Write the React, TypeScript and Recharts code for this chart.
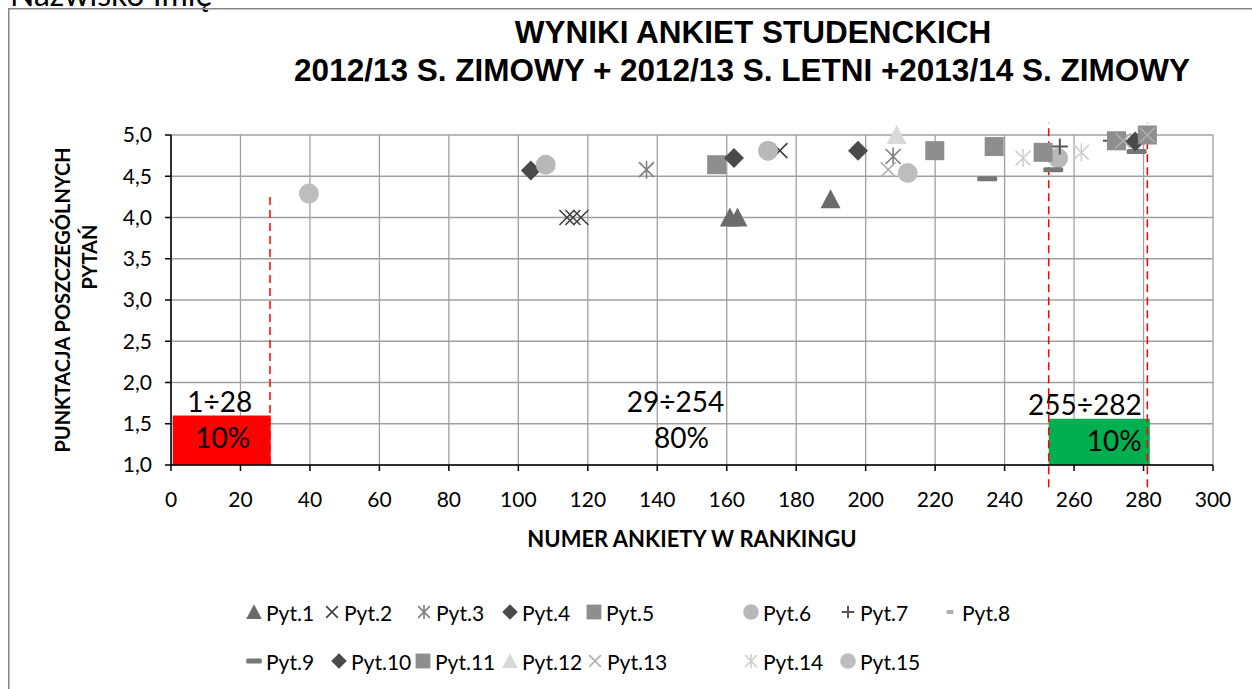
import React from 'react';
import {
  ScatterChart,
  Scatter,
  XAxis,
  YAxis,
  CartesianGrid,
  ReferenceArea,
  ReferenceLine,
} from 'recharts';

// survey rank (x) vs question score (y)
const PYT1 = [{ x: 160.9, y: 4.0 }, { x: 163.1, y: 4.0 }, { x: 189.9, y: 4.22 }];
const PYT2 = [{ x: 114.0, y: 4.0 }, { x: 115.7, y: 4.0 }, { x: 118.0, y: 4.0 }, { x: 175.3, y: 4.81 }];
const PYT3 = [{ x: 136.9, y: 4.58 }, { x: 207.9, y: 4.74 }];
const PYT4 = [{ x: 103.6, y: 4.57 }, { x: 197.8, y: 4.81 }];
const PYT5 = [{ x: 157.1, y: 4.64 }, { x: 237.0, y: 4.86 }];
const PYT6 = [{ x: 107.9, y: 4.64 }, { x: 171.9, y: 4.81 }, { x: 255.4, y: 4.72 }];
const PYT7 = [{ x: 255.9, y: 4.86 }, { x: 270.6, y: 4.93 }];
const PYT8: { x: number; y: number }[] = [];
const PYT9 = [{ x: 235.0, y: 4.47 }, { x: 254.0, y: 4.58 }, { x: 278.0, y: 4.8 }];
const PYT10 = [{ x: 162.1, y: 4.72 }, { x: 277.6, y: 4.92 }];
const PYT11 = [{ x: 219.9, y: 4.81 }, { x: 251.1, y: 4.79 }, { x: 272.2, y: 4.93 }, { x: 281.1, y: 5.0 }];
const PYT12 = [{ x: 208.9, y: 5.0 }];
const PYT13 = [{ x: 206.5, y: 4.58 }, { x: 274.1, y: 4.93 }, { x: 281.1, y: 5.0 }];
const PYT14 = [{ x: 245.3, y: 4.72 }, { x: 262.1, y: 4.79 }];
const PYT15 = [{ x: 39.7, y: 4.29 }, { x: 212.1, y: 4.54 }];

const SERIES_NAMES = [
  'Pyt.1', 'Pyt.2', 'Pyt.3', 'Pyt.4', 'Pyt.5', 'Pyt.6', 'Pyt.7', 'Pyt.8',
  'Pyt.9', 'Pyt.10', 'Pyt.11', 'Pyt.12', 'Pyt.13', 'Pyt.14', 'Pyt.15',
];
const SERIES_DATA = [
  PYT1, PYT2, PYT3, PYT4, PYT5, PYT6, PYT7, PYT8,
  PYT9, PYT10, PYT11, PYT12, PYT13, PYT14, PYT15,
];

const X_TICKS = [0, 20, 40, 60, 80, 100, 120, 140, 160, 180, 200, 220, 240, 260, 280, 300];
const Y_TICKS = [1, 1.5, 2, 2.5, 3, 3.5, 4, 4.5, 5];

// ranking groups
const GROUP_LABELS = ['1÷28', '29÷254', '255÷282'];
const GROUP_SHARES = ['10%', '80%', '10%'];
const LOW_GROUP = [0.5, 28.7];
const MID_GROUP = [29, 254];
const TOP_GROUP = [252.7, 281.8];
const GROUP_TOP = 1.6;
const CUT_LINES = [
  { x: 28.5, from: 1.0, to: 4.25 },
  { x: 252.7, from: 0.73, to: 5.15 },
  { x: 281.1, from: 0.73, to: 5.15 },
];

const MARKERS = [
  { kind: 'triangle', color: '#6b6b6b' },
  { kind: 'x', color: '#404040' },
  { kind: 'star', color: '#7f7f7f' },
  { kind: 'diamond', color: '#4a4a4a' },
  { kind: 'square', color: '#8e8e8e' },
  { kind: 'circle', color: '#b8b8b8' },
  { kind: 'plus', color: '#555555' },
  { kind: 'shortdash', color: '#b0b0b0' },
  { kind: 'dash', color: '#777777' },
  { kind: 'diamond', color: '#4a4a4a' },
  { kind: 'square', color: '#8e8e8e' },
  { kind: 'triangle', color: '#d9d9d9' },
  { kind: 'x', color: '#b0b0b0' },
  { kind: 'star', color: '#cfcfcf' },
  { kind: 'circle', color: '#bdbdbd' },
];

const FONT = 'Lato, "Noto Sans", sans-serif';

function Marker({ kind, color, cx, cy, s = 1 }: any) {
  const h = 10 * s;
  switch (kind) {
    case 'triangle':
      return <polygon points={`${cx},${cy - h} ${cx + h},${cy + h * 0.9} ${cx - h},${cy + h * 0.9}`} fill={color} />;
    case 'x': {
      const d = 7.5 * s;
      return (
        <path d={`M${cx - d},${cy - d}L${cx + d},${cy + d}M${cx + d},${cy - d}L${cx - d},${cy + d}`}
          stroke={color} strokeWidth={1.6} fill="none" />
      );
    }
    case 'star': {
      const d = 7.5 * s;
      return (
        <path d={`M${cx - d},${cy - d}L${cx + d},${cy + d}M${cx + d},${cy - d}L${cx - d},${cy + d}M${cx},${cy - d * 1.2}L${cx},${cy + d * 1.2}`}
          stroke={color} strokeWidth={1.6} fill="none" />
      );
    }
    case 'diamond':
      return <polygon points={`${cx},${cy - h} ${cx + h},${cy} ${cx},${cy + h} ${cx - h},${cy}`} fill={color} />;
    case 'square':
      return <rect x={cx - 9.5 * s} y={cy - 9.5 * s} width={19 * s} height={19 * s} fill={color} />;
    case 'circle':
      return <circle cx={cx} cy={cy} r={h} fill={color} />;
    case 'plus': {
      const d = 8 * s;
      return (
        <path d={`M${cx - d},${cy}L${cx + d},${cy}M${cx},${cy - d}L${cx},${cy + d}`}
          stroke={color} strokeWidth={2} fill="none" />
      );
    }
    case 'dash':
      return <rect x={cx - 10 * s} y={cy - 2.5} width={20 * s} height={5} rx={1.5} fill={color} />;
    case 'shortdash':
      return <rect x={cx - 4.5 * s} y={cy - 2} width={9 * s} height={4} rx={1} fill={color} />;
    default:
      return null;
  }
}

function GroupLabel({ viewBox, top, share, anchor = 'middle', dxTop = 0, dxShare = 0 }: any) {
  const { x, y, width } = viewBox;
  const tx = anchor === 'end' ? x + width - 8 : x + width / 2;
  return (
    <g fontFamily={FONT} fontSize={28} fill="#000">
      <text x={tx + dxTop} y={y - 15} textAnchor={anchor} dominantBaseline="central">{top}</text>
      <text x={tx + dxShare} y={y + 21} textAnchor={anchor} dominantBaseline="central">{share}</text>
    </g>
  );
}

function YTitle({ viewBox }: any) {
  const cy = viewBox.y + viewBox.height / 2;
  return (
    <g fontFamily={FONT} fontSize={20} fontWeight={700} fill="#000" style={{ whiteSpace: 'pre' }}>
      <text transform={`translate(62,${cy}) rotate(-90)`} textAnchor="middle" dominantBaseline="central">
        {'PUNKTACJA  POSZCZEGÓLNYCH'}
      </text>
      <text transform={`translate(89,${cy - 43}) rotate(-90)`} textAnchor="middle" dominantBaseline="central">
        PYTAŃ
      </text>
    </g>
  );
}

function XTitle({ viewBox }: any) {
  return (
    <text x={viewBox.x + viewBox.width / 2} y={viewBox.y + 73} textAnchor="middle" dominantBaseline="central"
      fontFamily={FONT} fontSize={22} fontWeight={700} fill="#000">
      NUMER ANKIETY W RANKINGU
    </text>
  );
}

const LEGEND_ROW1 = [254, 332, 424, 510, 594, 751, 848, 950];
const LEGEND_ROW2 = [254, 339, 423, 510, 595, 751, 848];

function Legend() {
  const slots = [
    ...LEGEND_ROW1.map((x) => ({ x, y: 612 })),
    ...LEGEND_ROW2.map((x) => ({ x, y: 661 })),
  ];
  return (
    <g>
      {SERIES_NAMES.map((name, i) => (
        <g key={name}>
          <Marker {...MARKERS[i]} cx={slots[i].x} cy={slots[i].y} s={0.78} />
          <text x={slots[i].x + 12} y={slots[i].y} dominantBaseline="central" fontFamily={FONT} fontSize={21} fill="#000">
            {name}
          </text>
        </g>
      ))}
    </g>
  );
}

const fmt = (v: number) => v.toFixed(1).replace('.', ',');

export default function App() {
  return (
    <div style={{ position: 'fixed', left: 0, top: 0, width: 1252, height: 689, overflow: 'hidden', background: '#fff', fontFamily: FONT }}>
      <svg width={1252} height={689} style={{ position: 'absolute', left: 0, top: 0 }}>
        <text x={10} y={6} fontFamily={FONT} fontSize={32} fill="#000">Nazwisko Imię</text>
        <rect x={8.75} y={8.75} width={1300} height={800} fill="none" stroke="#868686" strokeWidth={1.5} />
        <g fontFamily='"Liberation Sans", Arial, sans-serif' fontWeight={700} fontSize={31.5} fill="#000" textAnchor="middle"
          style={{ whiteSpace: 'pre' }}>
          <text x={753} y={43}>{'WYNIKI  ANKIET  STUDENCKICH'}</text>
          <text x={742} y={81}>2012/13 S. ZIMOWY + 2012/13 S. LETNI +2013/14 S. ZIMOWY</text>
        </g>
        <Legend />
      </svg>
      <div style={{ position: 'absolute', left: 0, top: 0 }}>
        <ScatterChart width={1252} height={689} margin={{ top: 135, right: 39, bottom: 134, left: 21 }}>
          <CartesianGrid stroke="#a0a0a0" strokeWidth={1.3} />
          <XAxis
            type="number"
            dataKey="x"
            domain={[0, 300]}
            ticks={X_TICKS}
            interval={0}
            height={90}
            axisLine={{ stroke: '#000', strokeWidth: 1.5 }}
            tickLine={{ stroke: '#000', strokeWidth: 1.5 }}
            tickSize={6}
            tickMargin={21}
            tick={{ fill: '#000', fontSize: 21, fontFamily: FONT }}
            label={<XTitle />}
          />
          <YAxis
            type="number"
            dataKey="y"
            domain={[1, 5]}
            ticks={Y_TICKS}
            interval={0}
            width={150}
            tickFormatter={fmt}
            axisLine={{ stroke: '#000', strokeWidth: 1.5 }}
            tickLine={{ stroke: '#000', strokeWidth: 1.5 }}
            tickSize={6}
            tickMargin={13}
            tick={{ fill: '#000', fontSize: 21, fontFamily: FONT }}
            label={<YTitle />}
          />
          <ReferenceArea x1={LOW_GROUP[0]} x2={LOW_GROUP[1]} y1={1} y2={GROUP_TOP} fill="#ff0000" fillOpacity={1} stroke="none"
            label={<GroupLabel top={GROUP_LABELS[0]} share={GROUP_SHARES[0]} dxTop={-2} dxShare={1} />} />
          <ReferenceArea x1={MID_GROUP[0]} x2={MID_GROUP[1]} y1={1} y2={GROUP_TOP} fill="none" fillOpacity={0} stroke="none"
            label={<GroupLabel top={GROUP_LABELS[1]} share={GROUP_SHARES[1]} dxTop={13} dxShare={19} />} />
          <ReferenceArea x1={TOP_GROUP[0]} x2={TOP_GROUP[1]} y1={1} y2={1.56} fill="#00b050" fillOpacity={1} stroke="none"
            label={<GroupLabel top={GROUP_LABELS[2]} share={GROUP_SHARES[2]} anchor="end" />} />
          {SERIES_NAMES.map((name, i) => (
            <Scatter
              key={name}
              name={name}
              data={SERIES_DATA[i]}
              isAnimationActive={false}
              shape={(p: any) => <Marker {...MARKERS[i]} cx={p.cx} cy={p.cy} />}
            />
          ))}
          {CUT_LINES.map((c) => (
            <ReferenceLine
              key={c.x}
              segment={[{ x: c.x, y: c.from }, { x: c.x, y: c.to }]}
              ifOverflow="visible"
              stroke="#ff0000"
              strokeWidth={1.5}
              strokeDasharray="8 5"
            />
          ))}
        </ScatterChart>
      </div>
    </div>
  );
}
